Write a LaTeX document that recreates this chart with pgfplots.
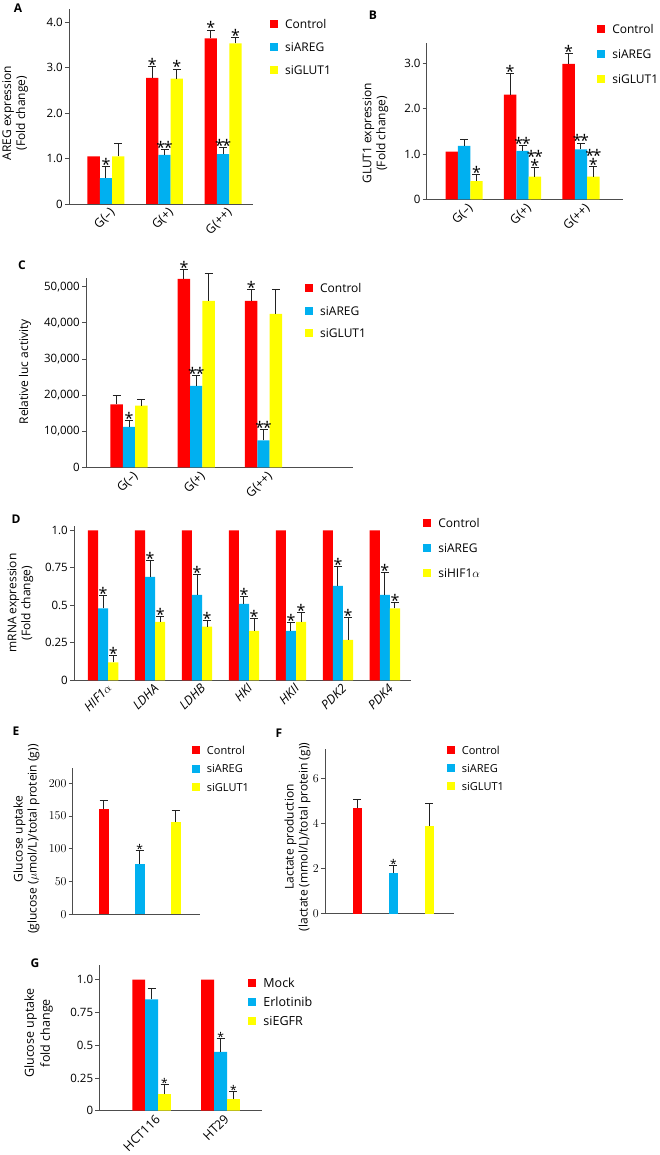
\documentclass[border=0pt]{standalone}
\usepackage{fontspec}
\setmainfont{Open Sans}
\setsansfont{Open Sans}
\usepackage{pgfplots}
\pgfplotsset{compat=1.18}
\usepackage{pgfplotstable}

\definecolor{cR}{HTML}{FF0000}
\definecolor{cB}{HTML}{00B0F0}
\definecolor{cY}{HTML}{FFFF00}
\definecolor{axc}{HTML}{4D4D4D}
\definecolor{erc}{HTML}{222222}

% significance codes in the tables: n none, s *, d **, t ** over *
\newcommand\stn{}
\newcommand\sts{*}
\newcommand\std{*\kern-1.5pt*}
\newcommand\stt{\vbox{\baselineskip=9pt\lineskiplimit=-20pt
  \hbox to 0pt{\hss\std\hss}\hbox to 0pt{\hss\sts\hss}}}
\newcommand\fs[1]{\fontsize{#1}{#1}\selectfont}
\def\starfont{\fs{16}}
\def\starshift{-4pt}

\pgfplotsset{
  panel/.style={scale only axis, anchor=south west, clip=false, axis lines*=left,
    axis line style={draw=axc, line width=0.9pt},
    ytick style={draw=axc, line width=0.9pt}, xtick style={draw=none},
    major tick length=4pt, tick align=outside, ymin=0,
    yticklabel style={font=\fs{11.5}, inner sep=2pt},
    xticklabel style={font=\fs{12.5}, rotate=45, anchor=north east, inner sep=1pt, xshift=4pt},
    ylabel style={font=\fontsize{12}{14}\selectfont, align=center, anchor=center},
    legend cell align=left,
    legend style={draw=none, fill=none, inner sep=0pt, anchor=north west, font=\fs{12},
      nodes={inner sep=0pt, text height=8.5pt, text depth=0pt},
      /tikz/every odd column/.append style={column sep=7pt}},
  },
  bar/.style={ybar, bar shift=0pt, draw=none,
    legend image code/.code={\fill[##1] (0pt,-4pt) rectangle (8pt,4pt);}},
  err/.style={forget plot, draw=none, mark=none,
    error bars/y dir=plus, error bars/y explicit,
    error bars/error bar style={draw=erc, line width=1pt, solid},
    error bars/error mark options={rotate=90, draw=erc, line width=1pt, mark size=4pt}},
  stars/.style={forget plot, draw=none, mark=none,
    nodes near coords={\csname st\pgfplotspointmeta\endcsname},
    point meta=explicit symbolic,
    every node near coord/.append style={font=\starfont, anchor=south,
      inner sep=0pt, yshift=\starshift, text=black}},
}

\newcommand\bars[4]{\addplot[bar, fill=#4] table[x expr=\thisrow{x}+(#3), y=#2]{#1};}
\newcommand\series[5][]{%
  \bars{#2}{#3}{#4}{#5}
  \addplot[#1, err] table[x expr=\thisrow{x}+(#4), y=#3, y error=#3e]{#2};
  \addplot[stars] table[x expr=\thisrow{x}+(#4), y expr=\thisrow{#3}+\thisrow{#3e}, meta=#3s]{#2};
}

% A: AREG expression
\pgfplotstableread{
x c    ce   cs a    ae   as g    ge   gs
0 1.05 0    n  0.57 0.25 s  1.05 0.29 n
1 2.78 0.24 s  1.08 0.12 d  2.76 0.21 s
2 3.65 0.18 s  1.10 0.14 d  3.54 0.13 s
}\tA
% B: GLUT1 expression
\pgfplotstableread{
x c    ce   cs a    ae   as g    ge   gs
0 1.05 0    n  1.18 0.13 n  0.40 0.14 s
1 2.31 0.46 s  1.07 0.11 d  0.50 0.20 t
2 2.99 0.23 s  1.10 0.14 d  0.50 0.22 t
}\tB
% C: luciferase
\pgfplotstableread{
x c     ce   cs a     ae   as g     ge   gs
0 17450 2310 n  11170 1760 s  17080 1570 n
1 52170 2490 s  22530 2770 d  46080 7470 n
2 46080 3040 s  7480  2860 d  42470 6750 n
}\tC
% D: mRNA expression
\pgfplotstableread{
x c a     ae    as g     ge    gs
0 1 0.480 0.084 s  0.120 0.044 s
1 1 0.689 0.111 s  0.389 0.038 s
2 1 0.569 0.133 s  0.358 0.042 s
3 1 0.509 0.047 s  0.329 0.080 s
4 1 0.329 0.053 s  0.389 0.060 s
5 1 0.629 0.129 s  0.269 0.149 s
6 1 0.569 0.147 s  0.480 0.038 s
}\tD
% E: glucose uptake
\pgfplotstableread{
x c     ce   cs a    ae   as g     ge   gs
0 161.3 12.7 n  77.4 20.3 s  141.0 16.8 n
}\tE
% F: lactate production
\pgfplotstableread{
x c    ce   cs a    ae   as g    ge   gs
0 4.68 0.39 n  1.80 0.33 s  3.90 0.99 n
}\tF
% G: glucose uptake fold change
\pgfplotstableread{
x c a    ae    as g     ge    gs
0 1 0.85 0.084 n  0.127 0.071 s
1 1 0.45 0.100 s  0.089 0.059 s
}\tG

\begin{document}
\begin{tikzpicture}[x=1pt,y=1pt]
\useasboundingbox (0,0) rectangle (659,1155);

\begin{axis}[panel, at={(69pt,951pt)}, width=184pt, height=195.2pt,
  xmin=-0.63, xmax=2.51, ymax=4.3, bar width=0.21,
  ytick={0,1,2,3,4}, yticklabels={0,1.0,2.0,3.0,4.0},
  xtick={0,1,2}, xticklabels={G(–),G(+),G(++)},
  ylabel={AREG expression\\(Fold change)},
  ylabel style={at={(axis description cs:-0.293,0.466)}},
  legend style={at={(1.092,0.944)}, row sep=14.5pt}]
\series[skip coords between index={0}{1}]{\tA}{c}{-0.21}{cR}
\series{\tA}{a}{0}{cB}
\series{\tA}{g}{0.21}{cY}
\legend{Control,siAREG,siGLUT1}
\end{axis}

\begin{axis}[panel, at={(426.7pt,955.7pt)}, width=196.3pt, height=156.3pt,
  xmin=-0.64, xmax=2.72, ymax=3.45, bar width=0.212,
  ytick={0,1,2,3}, yticklabels={0,1.0,2.0,3.0},
  xtick={0,1,2}, xticklabels={G(–),G(+),G(++)},
  ylabel={GLUT1 expression\\(Fold change)},
  ylabel style={at={(axis description cs:-0.261,0.422)}},
  legend style={at={(0.868,1.117)}, row sep=16.5pt}]
\series[skip coords between index={0}{1}]{\tB}{c}{-0.212}{cR}
\series{\tB}{a}{0}{cB}
\series{\tB}{g}{0.212}{cY}
\legend{Control,siAREG,siGLUT1}
\end{axis}

\begin{axis}[panel, at={(86pt,687.7pt)}, width=267pt, height=189.5pt,
  xmin=-0.64, xmax=3.33, ymax=52500, bar width=0.184,
  scaled y ticks=false,
  ytick={0,10000,20000,30000,40000,50000},
  yticklabels={0,{10,000},{20,000},{30,000},{40,000},{50,000}},
  xtick={0,1,2}, xticklabels={G(–),G(+),G(++)},
  ylabel={Relative luc activity},
  ylabel style={at={(axis description cs:-0.228,0.504)}},
  legend style={at={(0.820,0.967)}, row sep=14pt}]
\series{\tC}{c}{-0.184}{cR}
\series{\tC}{a}{0}{cB}
\series{\tC}{g}{0.184}{cY}
\legend{Control,siAREG,siGLUT1}
\end{axis}

\begin{axis}[panel, at={(74pt,474.7pt)}, width=336.7pt, height=154.5pt,
  xmin=-0.62, xmax=6.55, ymax=1.03, bar width=0.215,
  ytick={0,0.25,0.5,0.75,1}, yticklabels={0,0.25,0.5,0.75,1.0},
  xtick={0,...,6},
  xticklabels={{\itshape HIF1$\alpha$},{\itshape LDHA},{\itshape LDHB},{\itshape HKI},{\itshape HKII},{\itshape PDK2},{\itshape PDK4}},
  ylabel={mRNA expression\\(Fold change)},
  ylabel style={at={(axis description cs:-0.159,0.5)}},
  legend style={at={(1.037,1.048)}, row sep=16.5pt}]
\bars{\tD}{c}{-0.215}{cR}
\series{\tD}{a}{0}{cB}
\series{\tD}{g}{0.215}{cY}
\legend{Control,siAREG,siHIF1$\alpha$}
\end{axis}

\def\starfont{\fs{12}}
\def\starshift{-3pt}
\begin{axis}[panel, at={(72.7pt,240.7pt)}, width=127.3pt, height=146pt,
  xmin=-0.86, xmax=2.676, ymax=223, bar width=0.286,
  ytick={0,50,100,150,200}, xtick=\empty,
  ylabel={Glucose uptake\\(glucose ($\mu$mol/L)/total protein (g))},
  ylabel style={at={(axis description cs:-0.363,0.516)}},
  legend style={at={(0.935,1.154)}, row sep=9.8pt, font=\fs{11}}]
\series{\tE}{c}{0}{cR}
\series{\tE}{a}{1}{cB}
\series{\tE}{g}{2}{cY}
\legend{Control,siAREG,siGLUT1}
\end{axis}

\begin{axis}[panel, at={(325pt,241.3pt)}, width=129pt, height=164.7pt,
  xmin=-0.9, xmax=2.683, ymax=7.3, bar width=0.27,
  ytick={0,2,4,6}, xtick=\empty,
  ylabel={Lactate production\\(lactate (mmol/L)/total protein (g))},
  ylabel style={at={(axis description cs:-0.213,0.466)}},
  legend style={at={(0.943,1.020)}, row sep=9.5pt, font=\fs{11}}]
\series{\tF}{c}{0}{cR}
\series{\tF}{a}{1}{cB}
\series{\tF}{g}{2}{cY}
\legend{Control,siAREG,siGLUT1}
\end{axis}

\begin{axis}[panel, at={(99.3pt,44.3pt)}, width=162.4pt, height=145.4pt,
  xmin=-0.76, xmax=1.597, ymax=1.11, bar width=0.187,
  ytick={0,0.25,0.5,0.75,1}, yticklabels={0,0.25,0.5,0.75,1.0},
  xtick={0,1}, xticklabels={HCT116,HT29},
  ylabel={Glucose uptake\\fold change},
  ylabel style={at={(axis description cs:-0.374,0.534)}, font=\fontsize{12.5}{16}\selectfont},
  legend style={at={(0.917,0.910)}, row sep=10.5pt, font=\fs{12.5}}]
\bars{\tG}{c}{-0.187}{cR}
\series{\tG}{a}{0}{cB}
\series{\tG}{g}{0.187}{cY}
\legend{Mock,Erlotinib,siEGFR}
\end{axis}

\begin{scope}[every node/.style={font=\bfseries\fs{12}}]
\node at (18,1147) {A};
\node at (373,1140) {B};
\node at (22,890) {C};
\node at (16,636) {D};
\node at (16,424) {E};
\node at (279,422) {F};
\node at (35,192) {G};
\end{scope}
\end{tikzpicture}
\end{document}
